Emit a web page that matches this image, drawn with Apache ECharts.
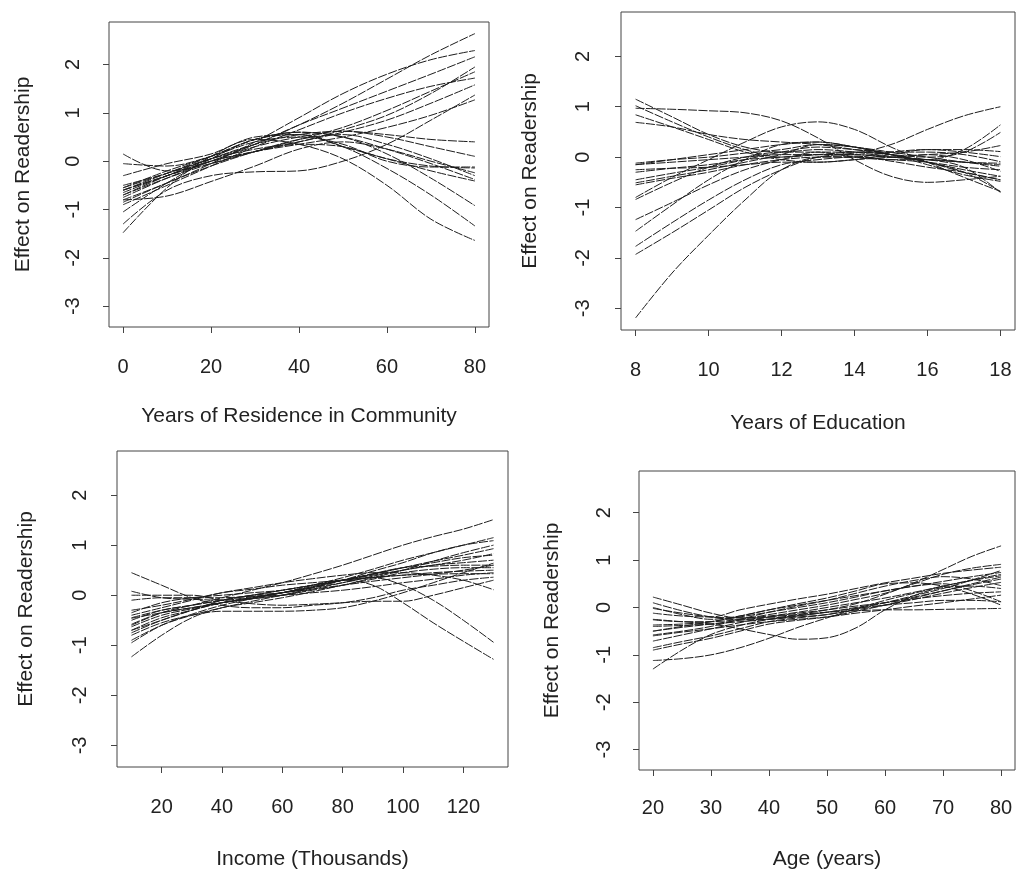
<!DOCTYPE html>
<html>
<head>
<meta charset="utf-8">
<script src="https://cdn.jsdelivr.net/npm/echarts@6/dist/echarts.min.js"></script>
<style>
html,body{margin:0;padding:0;background:#fff;}
#chart{width:1016px;height:871px;}
</style>
</head>
<body>
<div id="chart"></div>
<script>
// ---------- Panel 1: Years of Residence in Community ----------
const residenceX = [0, 10, 20, 30, 40, 50, 60, 70, 80];
const residenceCurves = [
  [-0.5, -0.25, 0.05, 0.35, 0.75, 1.2, 1.7, 2.2, 2.64],
  [-0.8, -0.45, -0.05, 0.4, 0.9, 1.4, 1.8, 2.1, 2.29],
  [-0.6, -0.3, 0.0, 0.35, 0.75, 1.1, 1.45, 1.8, 2.16],
  [-0.55, -0.25, 0.05, 0.25, 0.4, 0.65, 0.95, 1.4, 1.95],
  [-0.7, -0.35, -0.05, 0.2, 0.45, 0.7, 1.05, 1.45, 1.85],
  [-0.9, -0.5, -0.1, 0.3, 0.65, 1.0, 1.3, 1.55, 1.72],
  [-0.65, -0.3, 0.0, 0.2, 0.4, 0.6, 0.85, 1.2, 1.58],
  [-1.3, -0.6, -0.3, -0.22, -0.2, 0.0, 0.35, 0.85, 1.37],
  [-0.6, -0.3, 0.0, 0.2, 0.35, 0.5, 0.7, 0.95, 1.27],
  [-0.7, -0.3, 0.05, 0.35, 0.55, 0.62, 0.55, 0.45, 0.40],
  [-0.75, -0.35, 0.0, 0.3, 0.5, 0.62, 0.5, 0.3, 0.10],
  [-0.05, -0.1, 0.1, 0.4, 0.5, 0.35, 0.0, -0.12, -0.12],
  [0.15, -0.2, -0.05, 0.2, 0.35, 0.3, 0.05, -0.1, -0.14],
  [-0.8, -0.72, -0.42, -0.1, 0.25, 0.4, 0.25, 0.0, -0.24],
  [-0.55, -0.2, 0.1, 0.45, 0.6, 0.5, 0.25, -0.05, -0.38],
  [-0.3, -0.05, 0.15, 0.5, 0.55, 0.3, 0.05, -0.2, -0.41],
  [-0.6, -0.25, 0.1, 0.45, 0.6, 0.5, 0.15, -0.35, -0.92],
  [-1.05, -0.45, 0.05, 0.45, 0.55, 0.3, -0.15, -0.7, -1.34],
  [-1.48, -0.55, 0.1, 0.45, 0.35, 0.05, -0.5, -1.2, -1.64],
  [-0.85, -0.45, -0.1, 0.2, 0.45, 0.55, 0.35, 0.05, -0.3]
];
const residenceTicks = [0, 20, 40, 60, 80];

// ---------- Panel 2: Years of Education ----------
const educationX = [8, 9, 10, 11, 12, 13, 14, 15, 16, 17, 18];
const educationCurves = [
  [-3.19, -2.3, -1.55, -0.85, -0.25, 0.0, 0.02, -0.08, -0.2, -0.3, -0.45],
  [1.15, 0.8, 0.45, 0.2, 0.1, 0.15, 0.1, 0.0, -0.05, -0.2, -0.7],
  [0.97, 0.95, 0.92, 0.88, 0.72, 0.38, -0.05, -0.38, -0.5, -0.45, -0.38],
  [1.02, 0.7, 0.4, 0.15, 0.0, 0.05, 0.1, 0.05, -0.1, -0.3, -0.68],
  [0.84, 0.6, 0.35, 0.1, -0.05, -0.1, -0.05, 0.05, 0.15, 0.15, 0.11],
  [0.69, 0.6, 0.45, 0.35, 0.3, 0.25, 0.15, 0.05, -0.1, -0.3, -0.45],
  [-0.15, -0.1, -0.05, 0.0, 0.05, 0.05, 0.08, 0.25, 0.55, 0.82, 1.0],
  [-0.8, -0.4, -0.05, 0.3, 0.6, 0.7, 0.55, 0.2, -0.1, -0.4, -0.68],
  [-1.24, -0.9, -0.55, -0.25, -0.05, 0.1, 0.1, 0.05, 0.0, 0.1, 0.49],
  [-1.47, -0.95, -0.45, -0.05, 0.25, 0.3, 0.2, 0.05, -0.05, 0.15, 0.64],
  [-1.77, -1.3, -0.85, -0.45, -0.15, -0.05, 0.0, -0.05, -0.1, -0.2, -0.25],
  [-1.93, -1.5, -1.05, -0.6, -0.25, 0.0, 0.05, 0.0, -0.05, -0.1, -0.12],
  [-0.12, -0.05, 0.0, 0.08, 0.15, 0.25, 0.2, 0.1, 0.0, -0.1, -0.18],
  [-0.15, -0.05, 0.05, 0.15, 0.25, 0.3, 0.2, 0.05, -0.1, -0.25, -0.38],
  [-0.25, -0.22, -0.2, -0.15, -0.1, -0.1, -0.05, 0.0, 0.05, 0.1, 0.23],
  [-0.3, -0.22, -0.15, -0.05, 0.0, 0.05, 0.05, 0.0, 0.05, -0.05, -0.28],
  [-0.45, -0.32, -0.2, -0.05, 0.1, 0.2, 0.15, 0.1, 0.1, 0.05, -0.09],
  [-0.51, -0.38, -0.25, -0.1, 0.05, 0.25, 0.2, 0.05, -0.15, -0.35, -0.48],
  [-0.55, -0.42, -0.3, -0.15, -0.05, 0.0, 0.0, 0.1, 0.15, 0.1, 0.01],
  [-0.84, -0.5, -0.2, 0.0, 0.1, 0.1, 0.0, -0.05, -0.05, -0.1, -0.15]
];
const educationTicks = [8, 10, 12, 14, 16, 18];

// ---------- Panel 3: Income (Thousands) ----------
const incomeX = [10, 20, 30, 40, 50, 60, 70, 80, 90, 100, 110, 120, 130];
const incomeCurves = [
  [0.45, 0.2, -0.05, -0.2, -0.25, -0.25, -0.2, -0.15, -0.05, 0.1, 0.2, 0.3, 0.36],
  [-0.6, -0.35, -0.2, -0.05, 0.1, 0.25, 0.42, 0.6, 0.8, 1.0, 1.17, 1.32, 1.51],
  [-0.7, -0.45, -0.3, -0.15, -0.05, 0.05, 0.2, 0.35, 0.52, 0.7, 0.85, 1.0, 1.15],
  [-0.5, -0.3, -0.2, -0.1, 0.0, 0.05, 0.15, 0.3, 0.48, 0.65, 0.85, 1.0, 1.09],
  [-0.95, -0.6, -0.38, -0.2, -0.07, 0.05, 0.17, 0.3, 0.42, 0.55, 0.68, 0.8, 0.93],
  [-0.45, -0.3, -0.2, -0.1, 0.0, 0.1, 0.2, 0.3, 0.4, 0.5, 0.6, 0.7, 0.83],
  [-0.8, -0.55, -0.4, -0.32, -0.32, -0.32, -0.3, -0.25, -0.12, 0.05, 0.25, 0.45, 0.64],
  [0.08, -0.05, -0.08, -0.1, -0.03, 0.05, 0.12, 0.2, 0.28, 0.35, 0.42, 0.5, 0.6],
  [-0.3, -0.2, -0.08, 0.05, 0.12, 0.2, 0.25, 0.3, 0.35, 0.4, 0.45, 0.48, 0.5],
  [-0.75, -0.5, -0.3, -0.15, -0.05, 0.05, 0.17, 0.3, 0.36, 0.4, 0.42, 0.43, 0.43],
  [0.0, 0.0, 0.0, -0.1, -0.17, -0.2, -0.18, -0.15, -0.12, -0.12, 0.0, 0.15, 0.3],
  [-0.4, -0.25, -0.1, 0.05, 0.15, 0.25, 0.33, 0.4, 0.45, 0.45, 0.4, 0.3, 0.11],
  [-0.63, -0.4, -0.27, -0.15, -0.05, 0.05, 0.15, 0.25, 0.35, 0.2, -0.1, -0.5, -0.94],
  [-0.7, -0.5, -0.3, -0.1, 0.0, 0.1, 0.2, 0.3, 0.2, -0.15, -0.55, -0.92, -1.28],
  [-0.9, -0.6, -0.4, -0.25, -0.12, 0.0, 0.12, 0.25, 0.38, 0.5, 0.6, 0.65, 0.7],
  [-1.23, -0.8, -0.45, -0.25, -0.15, -0.05, 0.07, 0.2, 0.32, 0.45, 0.52, 0.55, 0.55],
  [-0.46, -0.35, -0.25, -0.15, -0.07, 0.0, 0.1, 0.2, 0.35, 0.5, 0.68, 0.85, 1.0],
  [-0.1, -0.05, -0.05, -0.05, -0.02, 0.0, 0.05, 0.1, 0.17, 0.25, 0.32, 0.4, 0.45],
  [-0.35, -0.15, -0.05, 0.0, 0.05, 0.1, 0.2, 0.3, 0.42, 0.55, 0.65, 0.75, 0.8],
  [-0.58, -0.35, -0.25, -0.15, -0.07, 0.0, 0.15, 0.3, 0.43, 0.55, 0.58, 0.6, 0.6]
];
const incomeTicks = [20, 40, 60, 80, 100, 120];

// ---------- Panel 4: Age (years) ----------
const ageX = [20, 25, 30, 35, 40, 45, 50, 55, 60, 65, 70, 75, 80];
const ageCurves = [
  [-1.3, -0.9, -0.57, -0.38, -0.25, -0.15, -0.05, 0.08, 0.28, 0.52, 0.8, 1.08, 1.3],
  [-1.12, -1.08, -1.0, -0.85, -0.65, -0.42, -0.22, -0.03, 0.15, 0.3, 0.45, 0.58, 0.7],
  [-0.25, -0.3, -0.35, -0.45, -0.57, -0.67, -0.64, -0.43, -0.05, 0.25, 0.42, 0.45, 0.4],
  [-0.5, -0.42, -0.35, -0.27, -0.2, -0.15, -0.1, -0.07, -0.05, -0.05, -0.04, -0.03, -0.02],
  [0.22, 0.05, -0.12, -0.22, -0.22, -0.17, -0.1, 0.0, 0.1, 0.22, 0.35, 0.48, 0.6],
  [0.1, -0.07, -0.2, -0.26, -0.25, -0.2, -0.15, -0.05, 0.05, 0.17, 0.3, 0.42, 0.53],
  [-0.02, -0.12, -0.2, -0.22, -0.18, -0.1, 0.0, 0.1, 0.2, 0.32, 0.45, 0.57, 0.67],
  [-0.12, -0.18, -0.2, -0.05, 0.07, 0.18, 0.28, 0.4, 0.52, 0.62, 0.72, 0.79, 0.85],
  [-0.26, -0.3, -0.3, -0.25, -0.15, -0.05, 0.05, 0.17, 0.3, 0.5, 0.7, 0.83, 0.91],
  [-0.85, -0.72, -0.6, -0.45, -0.3, -0.22, -0.15, -0.03, 0.1, 0.25, 0.4, 0.58, 0.78],
  [-0.9, -0.77, -0.65, -0.5, -0.35, -0.27, -0.2, -0.08, 0.05, 0.2, 0.35, 0.5, 0.64],
  [-0.37, -0.35, -0.3, -0.18, -0.05, 0.05, 0.15, 0.25, 0.35, 0.45, 0.55, 0.65, 0.74],
  [-0.58, -0.5, -0.4, -0.25, -0.1, 0.03, 0.15, 0.3, 0.45, 0.57, 0.65, 0.6, 0.46],
  [-0.71, -0.58, -0.45, -0.32, -0.2, -0.12, -0.05, 0.03, 0.1, 0.18, 0.25, 0.3, 0.33],
  [-0.5, -0.4, -0.3, -0.2, -0.1, 0.0, 0.1, 0.22, 0.35, 0.45, 0.5, 0.35, 0.12],
  [-0.6, -0.52, -0.45, -0.37, -0.3, -0.25, -0.2, -0.12, -0.05, 0.03, 0.1, 0.18, 0.26],
  [0.0, -0.15, -0.25, -0.18, -0.05, 0.08, 0.2, 0.35, 0.5, 0.52, 0.45, 0.28, 0.05],
  [-0.4, -0.38, -0.35, -0.3, -0.25, -0.18, -0.1, -0.02, 0.05, 0.1, 0.15, 0.15, 0.12]
];
const ageTicks = [20, 30, 40, 50, 60, 70, 80];

// ---------- Shared ----------
const effectTicks = [-3, -2, -1, 0, 1, 2];
const effectTitle = 'Effect on Readership';
const xTitles = ['Years of Residence in Community', 'Years of Education', 'Income (Thousands)', 'Age (years)'];

const FONT = '"Liberation Sans", Arial, Helvetica, sans-serif';
const INK = '#222';

const panels = [
  {xs: residenceX, curves: residenceCurves, ticks: residenceTicks, xmin: -3.2, xmax: 83.2,
   grid: {left: 109, top: 22, width: 380, height: 305},
   xm: 30, xg: 79, ym: 26, yg: 75},
  {xs: educationX, curves: educationCurves, ticks: educationTicks, xmin: 7.6, xmax: 18.4,
   grid: {left: 621, top: 12, width: 394, height: 318},
   xm: 30, xg: 83, ym: 28, yg: 80},
  {xs: incomeX, curves: incomeCurves, ticks: incomeTicks, xmin: 5.2, xmax: 134.8,
   grid: {left: 117, top: 451, width: 391, height: 317},
   xm: 30, xg: 82, ym: 27, yg: 80},
  {xs: ageX, curves: ageCurves, ticks: ageTicks, xmin: 17.6, xmax: 82.4,
   grid: {left: 639, top: 471, width: 376, height: 301},
   xm: 28, xg: 79, ym: 25, yg: 76}
];

const grids = [], xAxes = [], yAxes = [], series = [];
panels.forEach((p, i) => {
  grids.push(Object.assign({show: true, borderColor: '#444', borderWidth: 1, backgroundColor: '#fff'}, p.grid));
  xAxes.push({
    type: 'value', gridIndex: i, min: p.xmin, max: p.xmax, position: 'bottom',
    name: xTitles[i], nameLocation: 'middle', nameGap: p.xg,
    nameTextStyle: {fontFamily: FONT, fontSize: 21, color: INK},
    axisLine: {show: false, onZero: false},
    axisTick: {show: true, inside: false, length: 6, customValues: p.ticks, lineStyle: {color: '#444'}},
    axisLabel: {show: true, customValues: p.ticks, margin: p.xm, fontFamily: FONT, fontSize: 20, color: INK},
    splitLine: {show: false}
  });
  yAxes.push({
    type: 'value', gridIndex: i, min: -3.43, max: 2.88, position: 'left',
    name: effectTitle, nameLocation: 'middle', nameGap: p.yg, nameRotate: 90,
    nameTextStyle: {fontFamily: FONT, fontSize: 21, color: INK},
    axisLine: {show: false, onZero: false},
    axisTick: {show: true, inside: false, length: 6, customValues: effectTicks, lineStyle: {color: '#444'}},
    axisLabel: {show: true, customValues: effectTicks, rotate: 90, margin: p.ym, fontFamily: FONT, fontSize: 20, color: INK},
    splitLine: {show: false}
  });
  p.curves.forEach(c => {
    series.push({
      type: 'line', xAxisIndex: i, yAxisIndex: i,
      data: p.xs.map((x, k) => [x, c[k]]),
      smooth: 0.35, showSymbol: false, symbol: 'none',
      silent: true, animation: false,
      lineStyle: {color: '#1c1c1c', width: 1, type: [9, 1.5]}
    });
  });
});

const chart = echarts.init(document.getElementById('chart'), null, {renderer: 'canvas'});
chart.setOption({
  backgroundColor: '#fff',
  animation: false,
  grid: grids, xAxis: xAxes, yAxis: yAxes, series: series
});
</script>
</body>
</html>
